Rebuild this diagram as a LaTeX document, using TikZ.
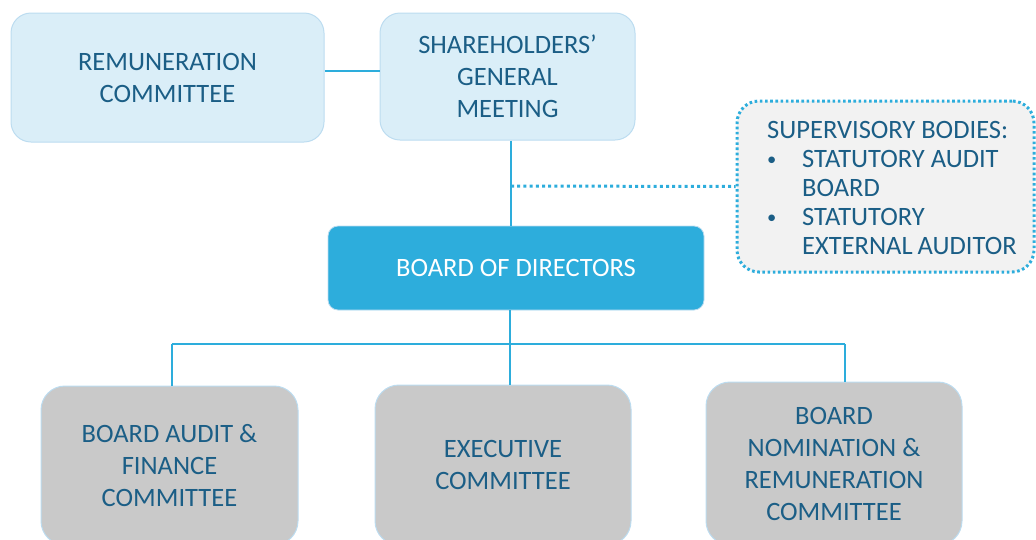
\documentclass[tikz,border=0pt]{standalone}
\usepackage{fontspec}
\setmainfont{Carlito}
\definecolor{lblue}{HTML}{DAEEF8}
\definecolor{lblueb}{HTML}{BCDCF0}
\definecolor{cyanb}{HTML}{2DADDC}
\definecolor{txt}{HTML}{1B5E86}
\definecolor{gbox}{HTML}{C9C9C9}
\definecolor{supf}{HTML}{F2F2F2}
\newcommand{\bul}{\makebox[35pt][l]{\hspace*{0pt}\raisebox{1.5pt}{\scalebox{0.7}{\textbullet}}}}
\tikzset{
  base/.style={rectangle, rounded corners=20pt, align=center, text=txt,
    font=\fontsize{26.5}{32}\selectfont, inner sep=0pt},
  topbox/.style={base, fill=lblue, draw=lblueb, line width=1pt},
  botbox/.style={base, fill=gbox, draw=lblueb, line width=1pt, rounded corners=24pt},
  bodbox/.style={base, fill=cyanb, draw=lblueb, line width=0.8pt, rounded corners=10pt, text=white},
  supbox/.style={base, fill=supf, draw=cyanb, line width=3pt, dash pattern=on 2.6pt off 2.6pt,
    rounded corners=22pt},
  suptext/.style={anchor=base west, inner sep=0pt, text=txt, align=left, font=\fontsize{26.5}{29}\selectfont},
  conn/.style={draw=cyanb, line width=2.5pt},
  dotconn/.style={draw=cyanb, line width=3pt, dash pattern=on 3pt off 3.2pt}
}
\begin{document}
\begin{tikzpicture}[x=1pt,y=-1pt]
\useasboundingbox (0,0) rectangle (1036,539);
\clip (0,0) rectangle (1036,539);
\node[topbox, minimum width=313pt, minimum height=129pt] (rem) at (167.5,77.5) {REMUNERATION\\COMMITTEE};
\node[topbox, minimum width=255pt, minimum height=127pt] (sh) at (507.5,76.5) {SHAREHOLDERS’\\GENERAL\\MEETING};
\node[bodbox, minimum width=376pt, minimum height=84pt] (bod) at (516,268) {BOARD OF DIRECTORS};
\node[supbox, minimum width=297pt, minimum height=171pt] (sup) at (885.5,186.5) {};
\node[suptext] (suptxt) at (767,254)
 {SUPERVISORY BODIES:\\
  \bul STATUTORY AUDIT\\
  \hspace*{35pt}BOARD\\
  \bul STATUTORY\\
  \hspace*{35pt}EXTERNAL\kern-1pt\ AUDITOR};
\node[botbox, minimum width=257pt, minimum height=159pt] (baf) at (169.5,465.5) {BOARD AUDIT \&\\FINANCE\\COMMITTEE};
\node[botbox, minimum width=256pt, minimum height=160pt] (exe) at (503,465) {EXECUTIVE\\COMMITTEE};
\node[botbox, minimum width=256pt, minimum height=163pt] (bnr) at (834,463.5) {BOARD\\NOMINATION \&\\REMUNERATION\\COMMITTEE};
\coordinate (j) at (511,186);
\coordinate (h) at (510,344);
\coordinate (hl) at (172,344);
\coordinate (hr) at (845,344);
\draw[conn] (rem.east |- 0,71) -- (sh.west |- 0,71);
\draw[conn] (sh.south -| j) -- (bod.north -| j);
\draw[dotconn] (j) -- (sup.west);
\draw[conn] (bod.south -| h) -- (exe.north -| h);
\draw[conn] (hl) -- (hr);
\draw[conn] (hl) -- (baf.north -| hl);
\draw[conn] (hr) -- (bnr.north -| hr);
\end{tikzpicture}
\end{document}
